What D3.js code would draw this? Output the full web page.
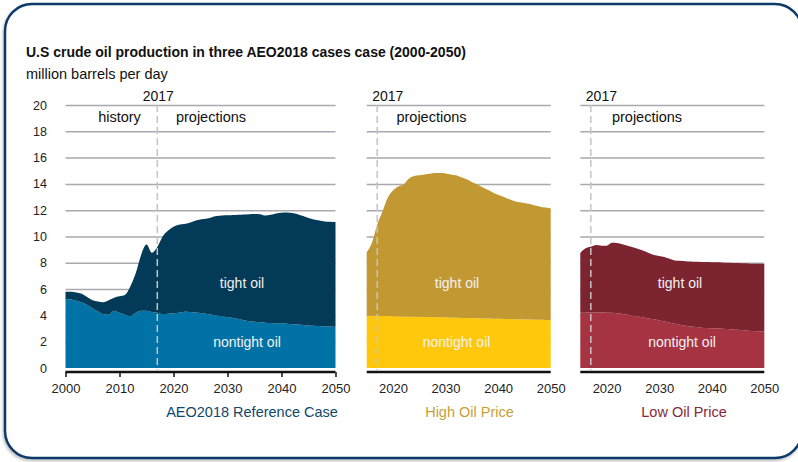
<!DOCTYPE html>
<html>
<head>
<meta charset="utf-8">
<script src="https://cdn.jsdelivr.net/npm/d3@7"></script>
<style>
  body { margin: 0; background: #fff; }
  svg { display: block; font-family: "Liberation Sans", Arial, Helvetica, sans-serif; }
</style>
</head>
<body>
<svg id="chart" width="798" height="462"></svg>
<script>
// values (million barrels per day)
const refYears = d3.range(2000, 2051);
const refNontight = [5.25, 5.2, 5.12, 5.0, 4.8, 4.55, 4.3, 4.1, 4.05, 4.35,
  4.2, 4.05, 3.95, 4.2, 4.35, 4.35, 4.25, 4.2, 4.1, 4.12,
  4.16, 4.2, 4.28, 4.26, 4.22, 4.18, 4.12, 4.05, 4.0, 3.94,
  3.88, 3.8, 3.72, 3.64, 3.56, 3.52, 3.48, 3.45, 3.43, 3.41,
  3.4, 3.37, 3.33, 3.3, 3.27, 3.24, 3.22, 3.2, 3.18, 3.16,
  3.14];
const refTight = [0.55, 0.6, 0.63, 0.65, 0.6, 0.6, 0.75, 0.9, 1.1, 1.0,
  1.25, 1.5, 2.25, 3.0, 4.25, 5.05, 4.52, 5.0, 5.9, 6.33,
  6.59, 6.7, 6.67, 6.79, 6.98, 7.12, 7.23, 7.4, 7.55, 7.66,
  7.74, 7.84, 7.94, 8.04, 8.14, 8.2, 8.22, 8.15, 8.22, 8.34,
  8.4, 8.45, 8.45, 8.4, 8.28, 8.16, 8.08, 8.02, 7.97, 7.96,
  7.96];

const caseYears = d3.range(2015, 2051);
const highNontight = [3.98, 3.98, 3.97, 3.96, 3.95, 3.94, 3.93, 3.92, 3.91, 3.9,
  3.89, 3.88, 3.87, 3.86, 3.85, 3.84, 3.83, 3.82, 3.81, 3.8,
  3.79, 3.78, 3.77, 3.76, 3.75, 3.74, 3.73, 3.72, 3.71, 3.7,
  3.69, 3.68, 3.67, 3.66, 3.65, 3.65];
const highTight = [4.82, 5.55, 6.93, 7.94, 9.0, 9.56, 9.87, 10.03, 10.49, 10.7,
  10.76, 10.84, 10.91, 10.96, 10.98, 10.96, 10.89, 10.83, 10.69, 10.55,
  10.36, 10.17, 9.98, 9.79, 9.6, 9.44, 9.29, 9.13, 8.99, 8.9,
  8.86, 8.8, 8.68, 8.61, 8.55, 8.49];
const lowNontight = [4.2, 4.21, 4.22, 4.22, 4.22, 4.21, 4.2, 4.16, 4.11, 4.05,
  3.98, 3.91, 3.84, 3.77, 3.7, 3.62, 3.54, 3.45, 3.37, 3.29,
  3.22, 3.16, 3.11, 3.07, 3.05, 3.03, 3.01, 2.99, 2.96, 2.93,
  2.9, 2.87, 2.84, 2.81, 2.79, 2.76];
const lowTight = [4.55, 4.89, 5.0, 5.13, 5.08, 5.09, 5.32, 5.34, 5.31, 5.25,
  5.2, 5.14, 5.08, 4.98, 4.9, 4.9, 4.91, 4.85, 4.81, 4.86,
  4.9, 4.94, 4.97, 5.0, 5.01, 5.02, 5.03, 5.03, 5.04, 5.06,
  5.08, 5.09, 5.11, 5.12, 5.13, 5.14];

const yTicks = [0, 2, 4, 6, 8, 10, 12, 14, 16, 18, 20];
const refTicks = [2000, 2010, 2020, 2030, 2040, 2050];
const caseTicks = [2020, 2030, 2040, 2050];
const markerYear = 2017;
const seriesKeys = ['nontight', 'tight'];
const seriesLabels = ['nontight oil', 'tight oil'];
const caseNames = ['AEO2018 Reference Case', 'High Oil Price', 'Low Oil Price'];

const svg = d3.select('#chart');

// frame
const defs = svg.append('defs');
defs.append('filter').attr('id', 'shadow')
  .attr('x', '-5%').attr('y', '-5%').attr('width', '110%').attr('height', '110%')
  .append('feDropShadow')
  .attr('dx', -1).attr('dy', 2).attr('stdDeviation', 1.5)
  .attr('flood-color', '#000').attr('flood-opacity', 0.25);

svg.append('rect')
  .attr('x', 5).attr('y', 4)
  .attr('width', 797).attr('height', 454)
  .attr('rx', 27)
  .attr('fill', '#fff')
  .attr('stroke', '#0c3a69')
  .attr('stroke-width', 2.5)
  .attr('filter', 'url(#shadow)');

svg.append('text')
  .attr('x', 26).attr('y', 57)
  .attr('font-size', 14).attr('font-weight', 'bold').attr('fill', '#111')
  .text('U.S crude oil production in three AEO2018 cases case (2000-2050)');

svg.append('text')
  .attr('x', 26).attr('y', 79)
  .attr('font-size', 14.5).attr('fill', '#111')
  .text('million barrels per day');

const y = d3.scaleLinear().domain([0, 20]).range([368, 105]);

// y axis labels
const yAxis = svg.append('g')
  .attr('transform', 'translate(50,0)')
  .call(d3.axisLeft(y).tickValues(yTicks).tickSize(0).tickPadding(3));
yAxis.select('.domain').remove();
yAxis.selectAll('text').attr('font-size', 12.5).attr('fill', '#222')
  .attr('font-family', '"Liberation Sans", Arial, sans-serif');

const panels = [
  { years: refYears, nontight: refNontight, tight: refTight,
    domain: [2000, 2050], range: [65.5, 335.5], ticks: refTicks, tickMarks: true,
    colors: ['#0172a6', '#033a57'], nameColor: '#10486b', nameX: 252,
    tightX: 242, nontightX: 247, history: true },
  { years: caseYears, nontight: highNontight, tight: highTight,
    domain: [2015, 2050], range: [366.7, 550.7], ticks: caseTicks, tickMarks: false,
    colors: ['#ffc80c', '#c29832'], nameColor: '#c89f36', nameX: 469.5,
    tightX: 457, nontightX: 456.5, history: false },
  { years: caseYears, nontight: lowNontight, tight: lowTight,
    domain: [2015, 2050], range: [580.3, 764.3], ticks: caseTicks, tickMarks: false,
    colors: ['#a53342', '#7c2531'], nameColor: '#8a2835', nameX: 684,
    tightX: 680, nontightX: 682, history: false }
];

panels.forEach((p, i) => {
  const x = d3.scaleLinear().domain(p.domain).range(p.range);
  const g = svg.append('g');

  // gridlines
  const grid = g.append('g')
    .attr('transform', `translate(${p.range[0]},0)`)
    .call(d3.axisLeft(y).tickValues(yTicks.filter(d => d > 0))
      .tickSize(-(p.range[1] - p.range[0])).tickFormat(''));
  grid.select('.domain').remove();
  grid.selectAll('line').attr('stroke', '#a9a9ae').attr('stroke-width', 1.5);

  // stacked areas
  const rows = p.years.map((yr, j) => ({ year: yr, nontight: p.nontight[j], tight: p.tight[j] }));
  const stacked = d3.stack().keys(seriesKeys)(rows);
  const area = d3.area()
    .x(d => x(d.data.year))
    .y0(d => y(d[0]))
    .y1(d => y(d[1]))
    .curve(d3.curveMonotoneX);
  g.selectAll('path.layer')
    .data(stacked)
    .enter().append('path')
      .attr('class', 'layer')
      .attr('d', area)
      .attr('fill', (d, k) => p.colors[k]);

  // 2017 divider
  const mx = x(markerYear);
  g.append('line')
    .attr('x1', mx).attr('x2', mx)
    .attr('y1', y(20)).attr('y2', y(0) + 2)
    .attr('stroke', '#c4c4c4').attr('stroke-width', 1.5)
    .attr('stroke-dasharray', '7,4');
  g.append('text')
    .attr('x', p.history ? mx + 1 : mx - 5).attr('y', 101)
    .attr('text-anchor', p.history ? 'middle' : 'start')
    .attr('font-size', 14).attr('fill', '#111')
    .text(markerYear);

  if (p.history) {
    g.append('text').attr('x', 119.5).attr('y', 122)
      .attr('text-anchor', 'middle').attr('font-size', 14.5).attr('fill', '#111')
      .text('history');
  }
  g.append('text')
    .attr('x', p.history ? 211 : (i === 1 ? 431.5 : 647)).attr('y', 122)
    .attr('text-anchor', 'middle').attr('font-size', 14.5).attr('fill', '#111')
    .text('projections');

  // series labels
  g.append('text').attr('x', p.tightX).attr('y', y(6.1))
    .attr('text-anchor', 'middle').attr('font-size', 14).attr('fill', '#f2f2f2')
    .text(seriesLabels[1]);
  g.append('text').attr('x', p.nontightX).attr('y', y(1.63))
    .attr('text-anchor', 'middle').attr('font-size', 14).attr('fill', '#f2f2f2')
    .text(seriesLabels[0]);

  // x axis
  const xAxis = g.append('g')
    .attr('transform', 'translate(0,372)')
    .call(d3.axisBottom(x).tickValues(p.ticks).tickFormat(d3.format('d'))
      .tickSize(p.tickMarks ? 5 : 0).tickPadding(p.tickMarks ? 7 : 12));
  xAxis.select('.domain')
    .attr('d', `M${p.range[0]},0H${p.range[1]}`)
    .attr('stroke', '#111').attr('stroke-width', 2.5);
  xAxis.selectAll('.tick line').attr('stroke', '#111').attr('stroke-width', 1.5);
  xAxis.selectAll('text').attr('font-size', 13).attr('fill', '#222')
    .attr('font-family', '"Liberation Sans", Arial, sans-serif');

  g.append('text')
    .attr('x', p.nameX).attr('y', 417)
    .attr('text-anchor', 'middle').attr('font-size', 14.5)
    .attr('fill', p.nameColor)
    .text(caseNames[i]);
});
</script>
</body>
</html>
